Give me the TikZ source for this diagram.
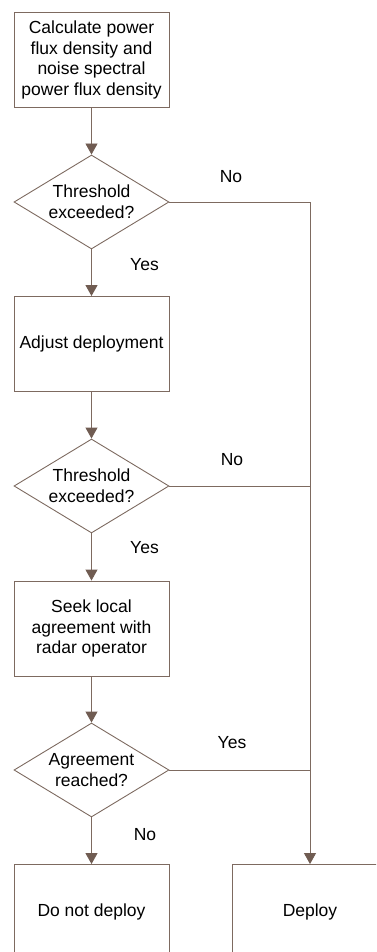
\documentclass[tikz,border=0pt]{standalone}
\usepackage{fontspec}
\setmainfont{Liberation Sans}
\usetikzlibrary{shapes.geometric,arrows.meta}
\definecolor{linec}{RGB}{125,106,96}
\definecolor{arrowc}{RGB}{112,92,82}
\begin{document}
\begin{tikzpicture}[x=1pt,y=-1pt,
  every node/.style={font=\fontsize{17.5}{20.8}\selectfont, text=black},
  procbox/.style={draw=linec, line width=0.9pt, minimum width=155pt, minimum height=95pt, inner sep=0pt, align=center},
  decision/.style={draw=linec, line width=0.9pt, diamond, aspect=1.65, minimum width=155pt, minimum height=94pt, inner sep=0pt, align=center},
  conn/.style={draw=linec, line width=0.9pt},
  arr/.style={conn, -{Triangle[width=12pt,length=11pt,color=arrowc]}},
  lbl/.style={inner sep=0pt}]
\useasboundingbox (0,0) rectangle (376,952);
\clip (0,0) rectangle (376,952);
\node[procbox] (b1) at (91.5,60) {Calculate power\\flux density and\\noise spectral\\power flux density};
\node[decision] (d1) at (91.5,202) {Threshold\\exceeded?};
\node[procbox] (b2) at (91.5,344) {Adjust deployment};
\node[decision] (d2) at (91.5,486) {Threshold\\exceeded?};
\node[procbox] (b3) at (91.5,628.5) {Seek local\\agreement with\\radar operator};
\node[decision] (d3) at (91.5,770) {Agreement\\reached?};
\node[procbox] (b4) at (91.5,912) {Do not deploy};
\node[procbox] (b5) at (310,912) {Deploy};
\coordinate (j1) at (310,202);
\coordinate (j2) at (310,486);
\coordinate (j3) at (310,770);
\draw[arr] (b1) -- (d1);
\draw[arr] (d1) -- (b2);
\draw[arr] (b2) -- (d2);
\draw[arr] (d2) -- (b3);
\draw[arr] (b3) -- (d3);
\draw[arr] (d3) -- (b4);
\draw[arr] (d1.east) -- (j1) -- (b5.north);
\draw[conn] (d2.east) -- (j2);
\draw[conn] (d3.east) -- (j3);
\node[lbl] (l1) at (231,177) {No};
\node[lbl] (l2) at (144.5,265) {Yes};
\node[lbl] (l3) at (232,460) {No};
\node[lbl] (l4) at (144.5,548) {Yes};
\node[lbl] (l5) at (232,743) {Yes};
\node[lbl] (l6) at (145,835) {No};
\end{tikzpicture}
\end{document}
